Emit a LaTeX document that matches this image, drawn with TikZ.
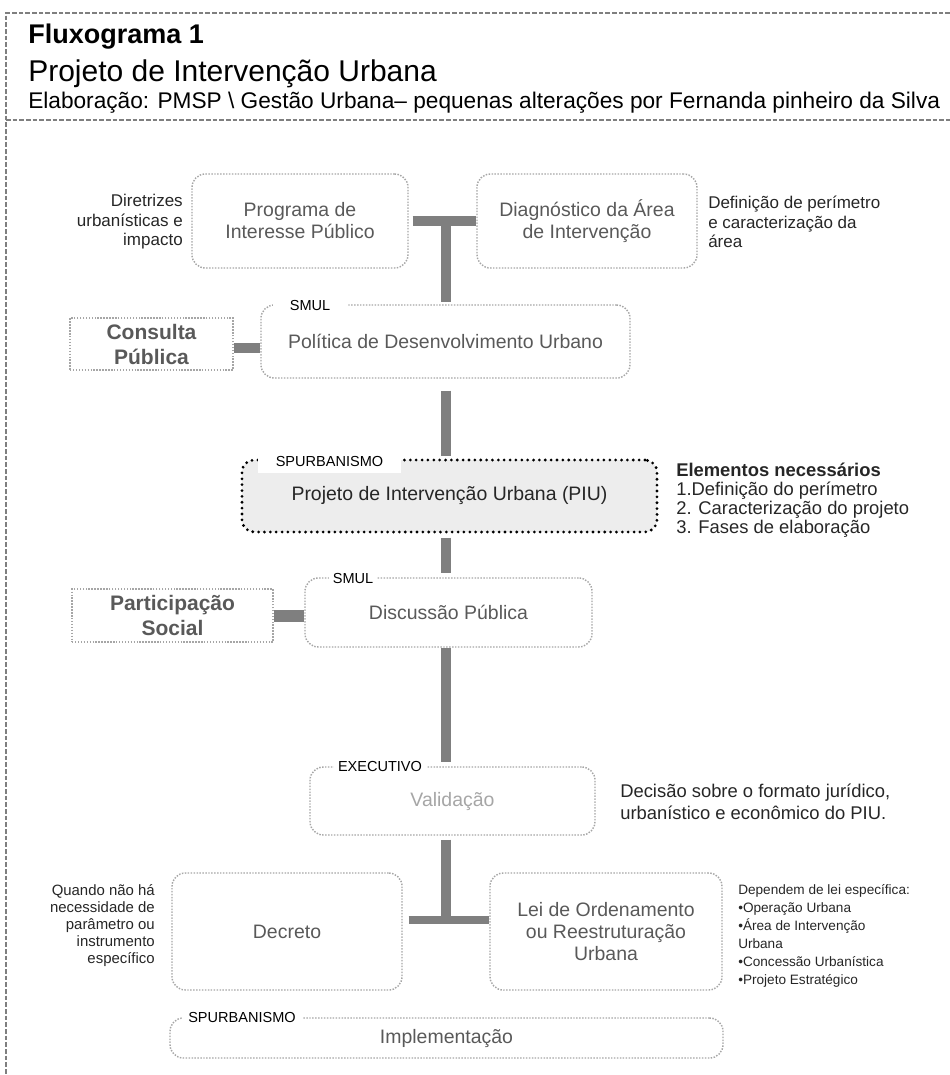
\documentclass[tikz,border=0pt]{standalone}
\usepackage{fontspec}
\setmainfont{Liberation Sans}
\usetikzlibrary{calc}
\definecolor{boxgray}{HTML}{A6A6A6}
\definecolor{txtgray}{HTML}{595959}
\definecolor{paletxt}{HTML}{A6A6A6}
\definecolor{bargray}{HTML}{7F7F7F}
\definecolor{framegray}{HTML}{7F7F7F}
\definecolor{piufill}{HTML}{EDEDED}
\definecolor{ink}{HTML}{262626}
\newcommand\fmain{\fontsize{14.6pt}{16.5pt}\selectfont}
\newcommand\fbld{\fontsize{15.75pt}{18.75pt}\selectfont\bfseries}
\newcommand\fann{\fontsize{12.75pt}{14.6pt}\selectfont}
\newcommand\fel{\fontsize{13.8pt}{14.25pt}\selectfont}
\newcommand\fdec{\fontsize{13.8pt}{16.5pt}\selectfont}
\newcommand\fsmall{\fontsize{11.2pt}{12.75pt}\selectfont}
\newcommand\fdep{\fontsize{10.2pt}{13.5pt}\selectfont}
\newcommand\flab{\fontsize{10.9pt}{12pt}\selectfont}
\tikzset{
  sz/.style 2 args={minimum width=#1*0.75pt, minimum height=#2*0.75pt},
  dotbox/.style={draw=boxgray, line width=1.1pt, dash pattern=on 1.1pt off 1.1pt,
    rounded corners=10pt, inner sep=0pt, align=center, text=txtgray, font=\fmain},
  sqbox/.style={dotbox, sharp corners, font=\fbld, text=txtgray},
  piubox/.style={draw=black, line width=2.3pt, line cap=round, dash pattern=on 0pt off 4.4pt,
    rounded corners=9pt, fill=piufill, inner sep=0pt, align=center, font=\fmain, text=ink},
  lab/.style={fill=white, font=\flab, text=black, inner sep=0pt},
  ann/.style={font=\fann, text=ink, inner sep=0pt},
  bar/.style={draw=bargray, line width=7.5pt},
  frameline/.style={draw=framegray, line width=1.8pt, dash pattern=on 3.5pt off 1.5pt},
}
\begin{document}
\begin{tikzpicture}[x=0.75pt,y=-0.75pt]
\useasboundingbox (0,0) rectangle (950,1075);
% frame
\draw[frameline] (950,13) -- (6,13) -- (6,1075);
\draw[frameline] (6,120) -- (950,120);
% header
\node[anchor=base west, inner sep=0pt, font=\fontsize{20.25pt}{24pt}\selectfont\bfseries, text=black] (h1) at (28,43) {Fluxograma 1};
\node[anchor=base west, inner sep=0pt, font=\fontsize{22.5pt}{26pt}\selectfont, text=black] (h2) at (28,81) {Projeto de Intervenção Urbana};
\node[anchor=base west, inner sep=0pt, font=\fontsize{17pt}{20pt}\selectfont, text=black] (h3) at (28,108) {Elaboração: PMSP \textbackslash{} Gestão Urbana– pequenas alterações por Fernanda pinheiro da Silva};
% boxes
\node[dotbox, sz={216}{94}] (prog) at (300,221) {Programa de\\Interesse Público};
\node[dotbox, sz={220}{94}] (diag) at (587,221) {Diagnóstico da Área\\de Intervenção};
\node[dotbox, sz={369}{73}] (pol) at (445.5,341.5) {Política de Desenvolvimento Urbano};
\node[sqbox, sz={163}{52}] (cons) at (151.5,344) {Consulta\\Pública};
\node[piubox, sz={415}{72}] (piu) at (449.5,496) {Projeto de Intervenção Urbana (PIU)};
\node[dotbox, sz={287}{69}] (disc) at (448.5,612.5) {Discussão Pública};
\node[sqbox, sz={201}{53}] (part) at (172.5,615.5) {Participação\\Social};
\node[dotbox, sz={285}{68}, text=paletxt] (valid) at (452.5,801) {Validação};
\node[dotbox, sz={230}{117}] (decr) at (287,931.5) {Decreto};
\node[dotbox, sz={232}{117}] (lei) at (606,931.5) {Lei de Ordenamento\\ou Reestruturação\\Urbana};
\node[dotbox, sz={553}{40}] (impl) at (446.5,1038) {Implementação};
% labels on borders
\node[lab, sz={75}{18}] (l1) at (310,305) {SMUL};
\node[lab, sz={143}{23}] (l2) at (329.5,461.5) {SPURBANISMO};
\node[lab, sz={48}{16}] (l3) at (353,578) {SMUL};
\node[lab, sz={93}{16}] (l4) at (380,766) {EXECUTIVO};
\node[lab, sz={120}{16}] (l5) at (242,1017) {SPURBANISMO};
% annotations
\node[ann, anchor=east, align=right] (a1) at (183,222) {Diretrizes\\urbanísticas e\\impacto};
\node[ann, anchor=west, align=left] (a2) at (708,222) {Definição de perímetro\\e caracterização da\\área};
\node[ann, font=\fel, anchor=west, align=left] (a3) at (676,500) {\textbf{Elementos necessários}\\1.Definição do perímetro\\2. Caracterização do projeto\\3. Fases de elaboração};
\node[ann, font=\fdec, anchor=west, align=left] (a4) at (620,802) {Decisão sobre o formato jurídico,\\urbanístico e econômico do PIU.};
\node[ann, font=\fsmall, anchor=east, align=right] (a5) at (155,926) {Quando não há\\necessidade de\\parâmetro ou\\instrumento\\específico};
\node[ann, font=\fdep, anchor=west, align=left] (a6) at (738,936) {Dependem de lei específica:\\•Operação Urbana\\•Área de Intervenção\\Urbana\\•Concessão Urbanística\\•Projeto Estratégico};
% connectors
\coordinate (t1) at (pol.north |- prog.east);
\draw[bar, shorten <=3pt] (prog.east) -- (diag.west);
\draw[bar, shorten >=1.5pt] (t1) -- (pol.north);
\draw[bar] (cons.east |- 0,348) -- (pol.west |- 0,348);
\draw[bar, shorten <=9pt, shorten >=2pt] (pol.south) -- (pol.south |- piu.north);
\draw[bar, shorten <=3pt, shorten >=3pt] (pol.south |- piu.south) -- (pol.south |- disc.north);
\draw[bar, line width=9pt] (part.east) -- (disc.west |- part.east);
\draw[bar, shorten >=3.5pt] (pol.south |- disc.south) -- (pol.south |- valid.north);
\coordinate (t2) at (446,920);
\draw[bar, shorten <=3pt] (valid.south -| t2) -- (t2);
\draw[bar, line width=6.5pt, shorten <=4.5pt] (decr.east |- t2) -- (lei.west |- t2);
\end{tikzpicture}
\end{document}
